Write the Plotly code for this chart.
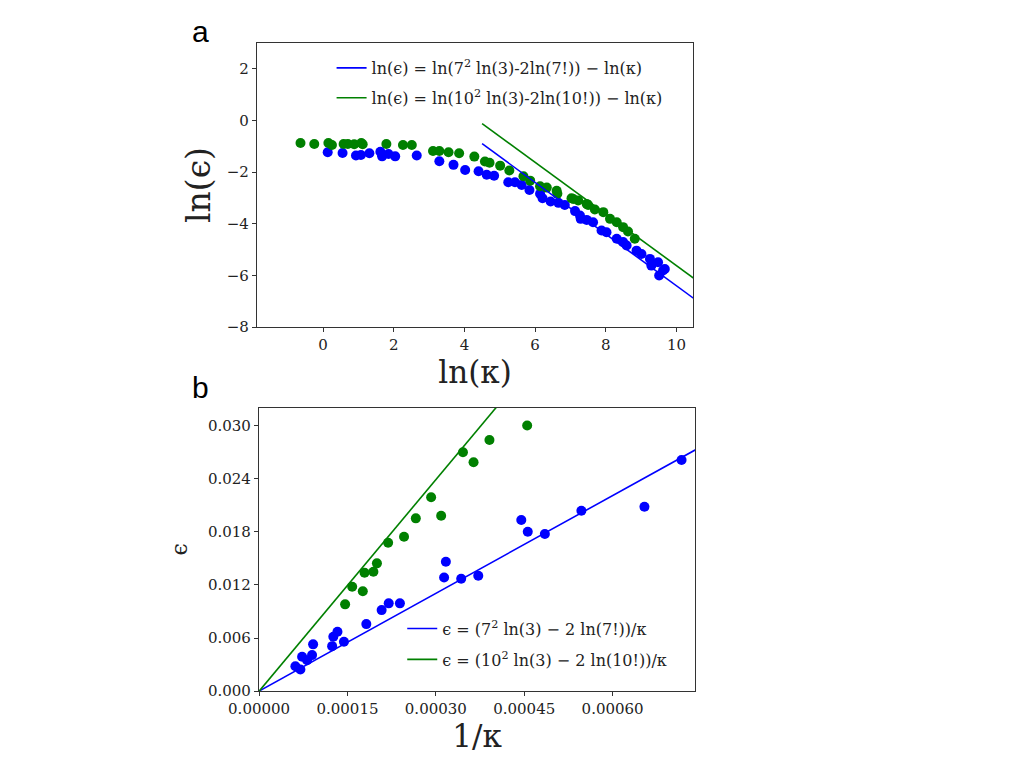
import plotly.graph_objects as go

# panel a: ln(kappa) vs ln(epsilon)
ln_k_blue = [0.13, 0.55, 0.93, 1.07, 1.31, 1.62, 1.67, 1.85, 2.04, 2.65, 3.29, 3.69,
             4.02, 4.40, 4.63, 4.84, 5.24, 5.43, 5.62, 5.84, 6.14, 6.21, 6.44, 6.66,
             6.84, 7.13, 7.27, 7.29, 7.46, 7.64, 7.88, 8.02, 8.31, 8.49, 8.59, 8.87,
             9.01, 9.25, 9.29, 9.48, 9.51, 9.62, 9.67]
ln_e_blue = [-1.23, -1.26, -1.36, -1.34, -1.27, -1.21, -1.39, -1.30, -1.39, -1.36, -1.58, -1.72,
             -1.92, -1.97, -2.10, -2.14, -2.39, -2.39, -2.50, -2.69, -2.84, -3.01, -3.14, -3.19,
             -3.27, -3.51, -3.68, -3.81, -3.85, -3.94, -4.26, -4.33, -4.58, -4.71, -4.84, -5.04,
             -5.17, -5.36, -5.62, -5.49, -6.00, -5.81, -5.75]

ln_k_green = [-0.64, -0.25, 0.15, 0.25, 0.58, 0.70, 0.88, 1.08, 1.12, 1.79, 2.26, 2.51,
              3.11, 3.29, 3.55, 3.85, 4.28, 4.58, 4.71, 5.01, 5.27, 5.67, 5.86, 6.14,
              6.33, 6.61, 6.63, 7.03, 7.08, 7.22, 7.46, 7.50, 7.69, 7.93, 8.12, 8.31,
              8.49, 8.63, 8.82]
ln_e_green = [-0.87, -0.91, -0.87, -0.95, -0.91, -0.91, -0.92, -0.87, -0.92, -0.91, -0.95, -0.95,
              -1.18, -1.18, -1.23, -1.27, -1.40, -1.59, -1.64, -1.75, -1.94, -2.16, -2.33, -2.55,
              -2.60, -2.72, -2.84, -3.01, -3.04, -3.10, -3.23, -3.27, -3.45, -3.55, -3.81, -3.94,
              -4.13, -4.30, -4.58]

# theory lines, panel a (endpoints)
fit_a_x = [4.5, 10.6]
fit_a_blue = [-0.90, -7.00]
fit_a_green = [-0.12, -6.22]

# panel b: 1/kappa vs epsilon
inv_k_blue = [0.0000616, 0.0000701, 0.000073, 0.0000815, 0.0000899, 0.0000917, 0.000124,
              0.000126, 0.000133, 0.000144, 0.000182, 0.000208, 0.000220, 0.000239,
              0.000314, 0.000317, 0.000343, 0.000372, 0.000445, 0.000456, 0.000485,
              0.000547, 0.000654, 0.000717]
eps_blue = [0.00282, 0.00245, 0.00388, 0.0035, 0.00407, 0.00528, 0.00508,
            0.00614, 0.0067, 0.00557, 0.00757, 0.00915, 0.00991, 0.00991,
            0.01284, 0.01461, 0.01269, 0.01303, 0.01932, 0.0180, 0.01774,
            0.02037, 0.02083, 0.0261]

inv_k_green = [0.000146, 0.000158, 0.000176, 0.000179, 0.000194, 0.000200, 0.000219,
               0.000246, 0.000266, 0.000292, 0.000309, 0.000346, 0.000364, 0.000391, 0.000455]
eps_green = [0.0098, 0.01179, 0.01128, 0.01337, 0.01348, 0.01443, 0.01676,
             0.01744, 0.01951, 0.02189, 0.01981, 0.02697, 0.02584, 0.02836, 0.0300]

fit_b_x = [0.0, 0.00075]
fit_b_blue = [0.0, 0.0276]
fit_b_green = [0.0, 0.0597]

BLUE = "#0000ff"
GREEN = "#008000"
SERIF = "DejaVu Serif"
INK = "#222222"

fig = go.Figure()

# panel a
fig.add_trace(go.Scatter(x=ln_k_blue, y=ln_e_blue, mode="markers", marker=dict(color=BLUE, size=10),
                         showlegend=False, xaxis="x", yaxis="y"))
fig.add_trace(go.Scatter(x=ln_k_green, y=ln_e_green, mode="markers", marker=dict(color=GREEN, size=10),
                         showlegend=False, xaxis="x", yaxis="y"))
fig.add_trace(go.Scatter(x=fit_a_x, y=fit_a_blue, mode="lines", line=dict(color=BLUE, width=1.6),
                         name="ln(ϵ) = ln(7<sup>2</sup> ln(3)-2ln(7!)) − ln(κ)", legendgroup="a1",
                         legend="legend", xaxis="x", yaxis="y"))
fig.add_trace(go.Scatter(x=fit_a_x, y=fit_a_green, mode="lines", line=dict(color=GREEN, width=1.6),
                         name="ln(ϵ) = ln(10<sup>2</sup> ln(3)-2ln(10!)) − ln(κ)", legendgroup="a2",
                         legend="legend", xaxis="x", yaxis="y"))

# panel b
fig.add_trace(go.Scatter(x=inv_k_blue, y=eps_blue, mode="markers", marker=dict(color=BLUE, size=10),
                         showlegend=False, xaxis="x2", yaxis="y2"))
fig.add_trace(go.Scatter(x=inv_k_green, y=eps_green, mode="markers", marker=dict(color=GREEN, size=10),
                         showlegend=False, xaxis="x2", yaxis="y2"))
fig.add_trace(go.Scatter(x=fit_b_x, y=fit_b_blue, mode="lines", line=dict(color=BLUE, width=1.6),
                         name="ϵ = (7<sup>2</sup> ln(3) − 2 ln(7!))/κ", legendgroup="b1",
                         legend="legend2", xaxis="x2", yaxis="y2"))
fig.add_trace(go.Scatter(x=fit_b_x, y=fit_b_green, mode="lines", line=dict(color=GREEN, width=1.6),
                         name="ϵ = (10<sup>2</sup> ln(3) − 2 ln(10!))/κ", legendgroup="b2",
                         legend="legend2", xaxis="x2", yaxis="y2"))

axis_style = dict(showline=True, linecolor="#333333", linewidth=1.3, mirror=True, automargin=False,
                  ticks="outside", ticklen=4, tickcolor="#333333", showgrid=False, zeroline=False,
                  tickfont=dict(family=SERIF, size=15, color=INK))

fig.update_layout(
    width=1024, height=768,
    margin=dict(l=0, r=0, t=0, b=0),
    paper_bgcolor="white", plot_bgcolor="white",
    xaxis=dict(domain=[0.2432, 0.669], range=[-1.87, 10.47], dtick=2, tick0=0, anchor="y",
               title=dict(text="ln(κ)", font=dict(family=SERIF, size=31, color=INK), standoff=6),
               **axis_style),
    yaxis=dict(domain=[0.5845, 0.9545], range=[-8, 3], dtick=2, tick0=0, anchor="x",
               title=dict(text="ln(ϵ)", font=dict(family=SERIF, size=33, color=INK), standoff=6),
               **axis_style),
    xaxis2=dict(domain=[0.2452, 0.671], range=[0, 0.00074], dtick=0.00015, tickformat=".5f", anchor="y2",
                title=dict(text="1/κ", font=dict(family=SERIF, size=31, color=INK), standoff=8),
                **axis_style),
    yaxis2=dict(domain=[0.1105, 0.4795], range=[0, 0.032], dtick=0.006, tickformat=".3f", anchor="x2",
                title=dict(text="ϵ", font=dict(family=SERIF, size=22, color=INK), standoff=14),
                **axis_style),
    legend=dict(x=0.316, y=0.944, xanchor="left", yanchor="top", bgcolor="rgba(255,255,255,0)",
                font=dict(family=SERIF, size=16, color=INK), tracegroupgap=6),
    legend2=dict(x=0.385, y=0.214, xanchor="left", yanchor="top", bgcolor="rgba(255,255,255,0)",
                 font=dict(family=SERIF, size=16, color=INK), tracegroupgap=7),
    annotations=[
        dict(text="a", x=0.188, y=0.994, xref="paper", yref="paper", showarrow=False,
             xanchor="center", yanchor="top", font=dict(family="Liberation Sans", size=30, color="black")),
        dict(text="b", x=0.188, y=0.53, xref="paper", yref="paper", showarrow=False,
             xanchor="center", yanchor="top", font=dict(family="Liberation Sans", size=30, color="black")),
    ],
)

fig.write_html("out.html")
